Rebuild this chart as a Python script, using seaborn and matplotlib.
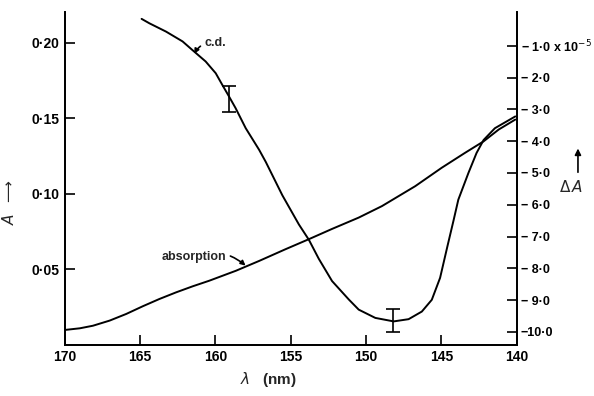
import numpy as np
import pandas as pd
import matplotlib
matplotlib.use("Agg")
import matplotlib.pyplot as plt
import seaborn as sns

# absorption curve (left axis, A)
abs_wl = [170.0, 169.0, 168.13, 167.02, 165.92, 164.82, 163.72, 162.61, 161.51, 160.41, 158.64,
          157.1, 155.34, 153.8, 152.26, 150.49, 148.95, 146.74, 144.98, 143.43, 142.2, 141.2, 140.1]
abs_A = [0.0099, 0.011, 0.0127, 0.0161, 0.0205, 0.0256, 0.0304, 0.0348, 0.0388, 0.0425, 0.0491,
         0.0556, 0.0634, 0.070, 0.0768, 0.0843, 0.0919, 0.1051, 0.1173, 0.1272, 0.1348, 0.1426, 0.1492]

# c.d. curve (right axis, delta A x 1e-5)
cd_wl = [164.9, 164.38, 163.28, 162.18, 161.53, 160.65, 159.98, 159.54, 159.10, 158.66, 157.99,
         157.10, 156.66, 155.56, 154.46, 153.8, 153.14, 152.26, 151.15, 150.49, 149.39, 148.17,
         147.18, 146.3, 145.64, 145.09, 144.6, 144.2, 143.88, 143.21, 142.67, 142.2, 141.45, 140.1]
cd_dA = [-0.15, -0.29, -0.55, -0.86, -1.13, -1.49, -1.86, -2.23, -2.59, -2.96, -3.59,
         -4.27, -4.65, -5.7, -6.62, -7.1, -7.7, -8.4, -8.98, -9.30, -9.56, -9.67,
         -9.6, -9.36, -8.99, -8.3, -7.3, -6.5, -5.84, -5.0, -4.37, -3.96, -3.59, -3.22]

# error bars on c.d.
err_wl = [159.1, 148.2]
err_dA = [-2.67, -9.64]
err_size = [0.41, 0.37]

x_ticks = [170, 165, 160, 155, 150, 145, 140]
left_ticks = [0.05, 0.10, 0.15, 0.20]
left_labels = ["0·05", "0·10", "0·15", "0·20"]
right_ticks = [-1, -2, -3, -4, -5, -6, -7, -8, -9, -10]
right_labels = ["− 1·0 x 10$^{-5}$", "− 2·0", "− 3·0", "− 4·0", "− 5·0",
                "− 6·0", "− 7·0", "− 8·0", "− 9·0", "−10·0"]

sns.set_style("ticks")
plt.rcParams['font.family'] = ['Liberation Sans Narrow', 'Liberation Sans', 'DejaVu Sans']
plt.rcParams['mathtext.fontset'] = 'dejavusans'

fig = plt.figure(figsize=(5.94, 3.96), dpi=100)
ax = fig.add_axes([0.109, 0.129, 0.761, 0.841])
ax2 = ax.twinx()

df_abs = pd.DataFrame({"wl": abs_wl, "A": abs_A})
df_cd = pd.DataFrame({"wl": cd_wl, "dA": cd_dA})

sns.lineplot(data=df_abs, x="wl", y="A", ax=ax, color="black", lw=1.4, sort=False)
sns.lineplot(data=df_cd, x="wl", y="dA", ax=ax2, color="black", lw=1.4, sort=False)
ax2.errorbar(err_wl, err_dA, yerr=err_size, fmt="none", ecolor="black", elinewidth=1.2,
             capsize=5, capthick=1.2)

ax.set_xlim(170, 140)
ax.set_ylim(0.0, 0.2205)
ax2.set_ylim(-10.41, 0.07)

ax.set_xticks(x_ticks)
ax.set_xticklabels([str(t) for t in x_ticks])
ax.set_yticks(left_ticks)
ax.set_yticklabels(left_labels)
ax2.set_yticks(right_ticks)
ax2.set_yticklabels(right_labels)

for a in (ax, ax2):
    a.tick_params(direction="in", length=7, width=1.2, labelsize=10, colors="black", pad=4)
    a.spines["top"].set_visible(False)
    for s in a.spines.values():
        s.set_linewidth(1.3)
        s.set_color("black")
ax2.tick_params(labelsize=9, pad=3)
for lab in ax.get_xticklabels() + ax.get_yticklabels() + ax2.get_yticklabels():
    lab.set_fontweight("bold")

ax.set_xlabel(r"$\lambda$   (nm)", fontsize=11, fontweight="bold")
ax.xaxis.set_label_coords(0.45, -0.075)
ax.set_ylabel(r"$A$  $\longrightarrow$", fontsize=11)
ax.yaxis.set_label_coords(-0.105, 0.43)
ax2.set_ylabel("")

# right axis label: delta A with upward arrow
fig.text(0.962, 0.527, r"$\Delta\,A$", fontsize=11, ha="center", va="center")
ax2.annotate("", xy=(0.973, 0.632), xytext=(0.973, 0.558), xycoords="figure fraction",
             arrowprops=dict(arrowstyle="-|>", color="black", lw=1.2, mutation_scale=9))

ax2.annotate("c.d.", xy=(161.4, -1.25), xytext=(160.7, -0.9), textcoords="data",
             fontsize=9, fontweight="bold", va="center", ha="left",
             arrowprops=dict(arrowstyle="-|>", color="black", lw=1.2, mutation_scale=7,
                             connectionstyle="arc3,rad=0.35", shrinkA=1, shrinkB=0))
ax.annotate("absorption", xy=(158.0, 0.0525), xytext=(163.6, 0.0585), textcoords="data",
            fontsize=9, fontweight="bold", va="center", ha="left",
            arrowprops=dict(arrowstyle="-|>", color="black", lw=1.2, mutation_scale=7,
                            connectionstyle="arc3,rad=-0.3", shrinkA=1, shrinkB=0))

fig.savefig("out.png", dpi=100)
